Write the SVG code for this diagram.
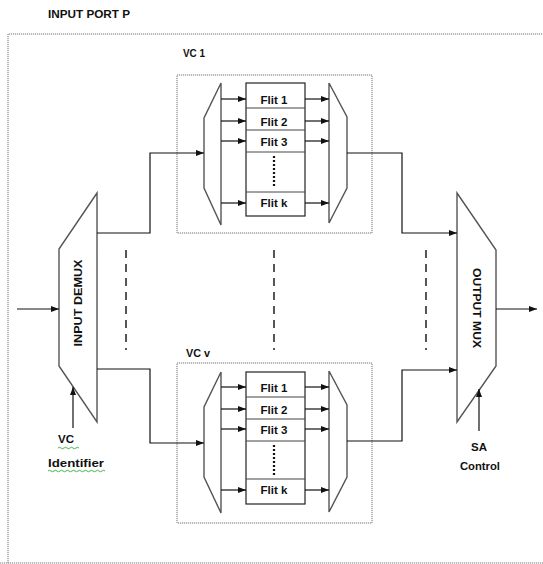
<svg xmlns="http://www.w3.org/2000/svg" width="543" height="564" viewBox="0 0 543 564">
<style>
.t{font-family:"Liberation Sans",Arial,sans-serif;font-weight:bold;font-size:11.5px;fill:#111}
.box{fill:none;stroke:#777;stroke-width:1;stroke-dasharray:1.2 0.8}
.trap{fill:#fff;stroke:#555;stroke-width:1.4}
.flit{fill:#fff;stroke:#222;stroke-width:1.2}
.sep{stroke:#444;stroke-width:1}
.w{fill:none;stroke:#111;stroke-width:1.2}
.dash{stroke:#111;stroke-width:1.4;stroke-dasharray:8 6}
.dots{stroke:#111;stroke-width:2.2;stroke-dasharray:2 2}
.sq{fill:none;stroke:#3a3;stroke-width:0.9}
</style>
<defs>
<marker id="ah" markerWidth="8" markerHeight="6" refX="8" refY="3" orient="auto" markerUnits="userSpaceOnUse">
<path d="M0,0 L8,3 L0,6 z" fill="#111"/>
</marker>
</defs>
<rect width="543" height="564" fill="#fff"/>
<text class="t" x="48" y="18" textLength="82" lengthAdjust="spacingAndGlyphs">INPUT PORT P</text>
<path class="box" d="M8,563 V34 H543"/>
<path class="box" d="M0,563 H543"/>

<g id="input-demux">
<path class="trap" d="M97,193 L59,249 L59,366 L97,422 Z"/>
<text class="t" transform="translate(82,303) rotate(-90)" text-anchor="middle" textLength="87" lengthAdjust="spacingAndGlyphs">INPUT  DEMUX</text>
</g>
<g id="output-mux">
<path class="trap" d="M457,193 L496,250 L496,366 L457,422 Z"/>
<text class="t" transform="translate(473,308) rotate(90)" text-anchor="middle" textLength="80" lengthAdjust="spacingAndGlyphs">OUTPUT  MUX</text>
</g>

<g id="vc1">
<text class="t" x="183" y="57" textLength="22" lengthAdjust="spacingAndGlyphs">VC 1</text>
<rect class="box" x="177" y="75" width="195" height="158"/>
<path class="trap" d="M221,83 L204,118 L204,188 L221,225 Z"/>
<rect class="flit" x="246" y="83" width="59" height="133"/>
<line class="sep" x1="246" y1="108" x2="305" y2="108"/>
<line class="sep" x1="246" y1="130" x2="305" y2="130"/>
<line class="sep" x1="246" y1="152" x2="305" y2="152"/>
<line class="sep" x1="246" y1="192" x2="305" y2="192"/>
<text class="t" x="274" y="104" text-anchor="middle">Flit 1</text>
<text class="t" x="274" y="126" text-anchor="middle">Flit 2</text>
<text class="t" x="274" y="146" text-anchor="middle">Flit 3</text>
<text class="t" x="274" y="207" text-anchor="middle">Flit k</text>
<line class="dots" x1="274" y1="156" x2="274" y2="188"/>
<path class="trap" d="M329,83 L347,117 L347,188 L329,223 Z"/>
</g>

<g id="vcv">
<text class="t" x="186" y="357" textLength="24" lengthAdjust="spacingAndGlyphs">VC v</text>
<rect class="box" x="177" y="363" width="195" height="160"/>
<path class="trap" d="M221,372 L204,407 L204,477 L221,513 Z"/>
<rect class="flit" x="246" y="372" width="59" height="132"/>
<line class="sep" x1="246" y1="397" x2="305" y2="397"/>
<line class="sep" x1="246" y1="419" x2="305" y2="419"/>
<line class="sep" x1="246" y1="441" x2="305" y2="441"/>
<line class="sep" x1="246" y1="479" x2="305" y2="479"/>
<text class="t" x="274" y="392" text-anchor="middle">Flit 1</text>
<text class="t" x="274" y="414" text-anchor="middle">Flit 2</text>
<text class="t" x="274" y="434" text-anchor="middle">Flit 3</text>
<text class="t" x="274" y="494" text-anchor="middle">Flit k</text>
<line class="dots" x1="274" y1="445" x2="274" y2="475"/>
<path class="trap" d="M329,371 L347,405 L347,477 L329,512 Z"/>
</g>

<g id="labels">
<text class="t" x="58" y="443" textLength="16" lengthAdjust="spacingAndGlyphs">VC</text>
<text class="t" x="48" y="467" textLength="56" lengthAdjust="spacingAndGlyphs">Identifier</text>
<path class="sq" d="M58,448 q1.5,-1.5 3,0 t3,0 t3,0 t3,0 t3,0 t3,0 t3,0"/>
<path class="sq" d="M48,471 q1.5,-1.5 3,0 t3,0 t3,0 t3,0 t3,0 t3,0 t3,0 t3,0 t3,0 t3,0 t3,0 t3,0 t3,0 t3,0 t3,0 t3,0 t3,0 t3,0 t3,0"/>
<text class="t" x="479" y="451" text-anchor="middle">SA</text>
<text class="t" x="480" y="470" text-anchor="middle" textLength="40" lengthAdjust="spacingAndGlyphs">Control</text>
</g>

<g id="connectors">
<line class="w" x1="17" y1="309" x2="59" y2="309" marker-end="url(#ah)"/>
<line class="w" x1="73" y1="428" x2="73" y2="387" marker-end="url(#ah)"/>
<path class="w" d="M97,233 H150 V153 H204" marker-end="url(#ah)"/>
<path class="w" d="M97,369 H150 V443 H204" marker-end="url(#ah)"/>
<path class="w" d="M347,153 H402 V233 H457" marker-end="url(#ah)"/>
<path class="w" d="M347,441 H402 V370 H457" marker-end="url(#ah)"/>
<line class="w" x1="496" y1="309" x2="537" y2="309" marker-end="url(#ah)"/>
<line class="w" x1="479" y1="431" x2="479" y2="389" marker-end="url(#ah)"/>
<line class="w" x1="221" y1="99" x2="246" y2="99" marker-end="url(#ah)"/>
<line class="w" x1="221" y1="121" x2="246" y2="121" marker-end="url(#ah)"/>
<line class="w" x1="221" y1="141" x2="246" y2="141" marker-end="url(#ah)"/>
<line class="w" x1="221" y1="203" x2="246" y2="203" marker-end="url(#ah)"/>
<line class="w" x1="305" y1="99" x2="329" y2="99" marker-end="url(#ah)"/>
<line class="w" x1="305" y1="121" x2="329" y2="121" marker-end="url(#ah)"/>
<line class="w" x1="305" y1="141" x2="329" y2="141" marker-end="url(#ah)"/>
<line class="w" x1="305" y1="203" x2="329" y2="203" marker-end="url(#ah)"/>
<line class="w" x1="221" y1="387" x2="246" y2="387" marker-end="url(#ah)"/>
<line class="w" x1="221" y1="409" x2="246" y2="409" marker-end="url(#ah)"/>
<line class="w" x1="221" y1="429" x2="246" y2="429" marker-end="url(#ah)"/>
<line class="w" x1="221" y1="490" x2="246" y2="490" marker-end="url(#ah)"/>
<line class="w" x1="305" y1="387" x2="329" y2="387" marker-end="url(#ah)"/>
<line class="w" x1="305" y1="409" x2="329" y2="409" marker-end="url(#ah)"/>
<line class="w" x1="305" y1="429" x2="329" y2="429" marker-end="url(#ah)"/>
<line class="w" x1="305" y1="490" x2="329" y2="490" marker-end="url(#ah)"/>
<line class="dash" x1="126" y1="250" x2="126" y2="350"/>
<line class="dash" x1="274" y1="250" x2="274" y2="350"/>
<line class="dash" x1="426" y1="250" x2="426" y2="350"/>
</g>
</svg>
